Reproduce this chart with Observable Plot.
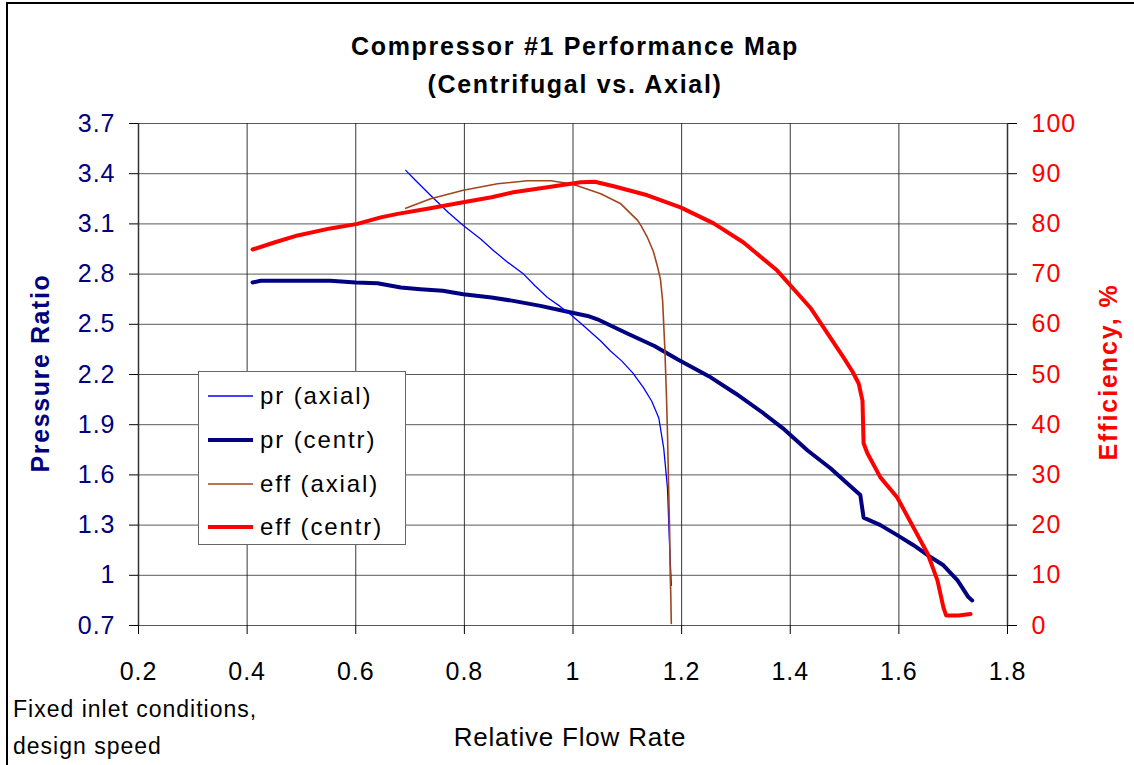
<!DOCTYPE html>
<html><head><meta charset="utf-8">
<script src="https://cdn.jsdelivr.net/npm/d3@7"></script>
<script src="https://cdn.jsdelivr.net/npm/@observablehq/plot@0.6"></script>
<style>
html,body{margin:0;padding:0;background:#fff;overflow:hidden;}
#wrap{position:relative;width:1134px;height:765px;overflow:hidden;font-family:"Liberation Sans",Arial,sans-serif;}
#border{position:absolute;left:6px;top:2px;width:1200px;height:800px;border:2px solid #000;pointer-events:none;}
.t{position:absolute;white-space:nowrap;line-height:1;}
#title{left:0;width:1150px;text-align:center;font-weight:bold;font-size:25px;letter-spacing:1.7px;}
#ylab{left:40px;top:373px;transform:translate(-50%,-50%) rotate(-90deg);font-weight:bold;font-size:25px;letter-spacing:1.6px;color:#000080;}
#y2lab{left:1108px;top:372px;transform:translate(-50%,-50%) rotate(-90deg);font-weight:bold;font-size:25px;letter-spacing:1.9px;color:#ff0000;}
#xlab{left:570px;top:737px;transform:translate(-50%,-50%);font-size:26px;letter-spacing:0.8px;}
#cap{left:13px;top:691px;font-size:23px;letter-spacing:1px;line-height:37px;}
#legend{position:absolute;left:198px;top:371px;width:208px;height:174px;border:1px solid #666;background:#fff;box-sizing:border-box;}
.row{position:absolute;left:9px;height:30px;display:flex;align-items:center;font-size:24px;letter-spacing:1.9px;}
.row svg{margin-right:7px;}
#plot{position:absolute;left:0;top:0;}
</style></head>
<body>
<div id="wrap">
  <div id="plot"></div>
  <div class="t" id="title"><div style="position:absolute;left:0;width:100%;top:34px">Compressor #1 Performance Map</div><div style="position:absolute;left:0;width:100%;top:72px">(Centrifugal vs. Axial)</div></div>
  <div class="t" id="ylab">Pressure Ratio</div>
  <div class="t" id="y2lab">Efficiency, %</div>
  <div class="t" id="xlab">Relative Flow Rate</div>
  <div class="t" id="cap">Fixed inlet conditions,<br>design speed</div>
  <div id="legend"></div>
  <div id="border"></div>
</div>
<script>
// ---- data ----
const xTicks = [0.2, 0.4, 0.6, 0.8, 1, 1.2, 1.4, 1.6, 1.8];
const prTicks = [0.7, 1, 1.3, 1.6, 1.9, 2.2, 2.5, 2.8, 3.1, 3.4, 3.7];
const effTicks = [0, 10, 20, 30, 40, 50, 60, 70, 80, 90, 100];

const seriesNames = ["pr (axial)", "pr (centr)", "eff (axial)", "eff (centr)"];
const seriesColors = ["#0000ff", "#000080", "#a0461e", "#ff0000"];
const seriesWidths = [1.3, 4, 1.6, 4];

const prAxialX = [0.692,0.707,0.738,0.77,0.798,0.83,0.854,0.88,0.909,0.93,0.953,0.975,0.995,1.02,1.051,1.069,1.09,1.11,1.13,1.145,1.158,1.167,1.174,1.177,1.179,1.181];
const prAxialY = [3.42,3.37,3.27,3.17,3.09,3.01,2.94,2.87,2.80,2.73,2.66,2.61,2.56,2.49,2.40,2.34,2.28,2.21,2.12,2.04,1.94,1.76,1.52,1.25,1.09,0.94];

const prCentrX = [0.41,0.425,0.46,0.50,0.553,0.60,0.64,0.683,0.719,0.76,0.798,0.85,0.89,0.94,0.99,1.027,1.045,1.10,1.15,1.193,1.25,1.30,1.35,1.386,1.432,1.474,1.515,1.529,1.535,1.566,1.597,1.627,1.653,1.682,1.708,1.728,1.735];
const prCentrY = [2.75,2.76,2.76,2.76,2.76,2.75,2.745,2.72,2.71,2.70,2.68,2.66,2.64,2.61,2.575,2.55,2.53,2.445,2.37,2.29,2.19,2.085,1.97,1.88,1.746,1.64,1.52,1.48,1.345,1.30,1.24,1.18,1.12,1.06,0.97,0.87,0.85];

const effAxialX = [0.692,0.738,0.798,0.861,0.916,0.959,0.99,1.008,1.051,1.088,1.119,1.126,1.137,1.148,1.156,1.161,1.165,1.169,1.172,1.174,1.176,1.178,1.179,1.180,1.181];
const effAxialY = [83.1,85.0,86.7,88.0,88.6,88.6,88.1,87.6,86.0,84.0,80.7,79.5,77.3,74.5,71.3,69.0,64.7,55.4,46.0,38.2,28.0,18.3,10.0,6.4,0.4];

const effCentrX = [0.41,0.45,0.493,0.553,0.603,0.646,0.677,0.732,0.798,0.85,0.89,0.953,1.014,1.04,1.075,1.137,1.198,1.259,1.314,1.376,1.437,1.498,1.515,1.526,1.533,1.535,1.542,1.566,1.597,1.627,1.653,1.671,1.682,1.687,1.691,1.71,1.732];
const effCentrY = [74.9,76.3,77.7,79.1,80.0,81.3,82.0,83.0,84.3,85.3,86.3,87.3,88.3,88.4,87.5,85.7,83.3,80.1,76.3,70.7,63.3,53.4,50.5,48.2,44.8,36.3,34.3,29.5,25.5,19.5,14.3,9.0,3.6,2.0,2.0,2.0,2.3];

// ---- secondary axis mapping (efficiency 0..100 onto pressure 0.7..3.7) ----
const prMin = prTicks[0], prMax = prTicks[prTicks.length - 1];
const effMax = effTicks[effTicks.length - 1];
const toPr = e => prMin + e * (prMax - prMin) / effMax;
const toEff = p => Math.round((p - prMin) * effMax / (prMax - prMin));

const font = "font-family:'Liberation Sans',Arial,sans-serif;font-size:25px;letter-spacing:1px;background:transparent;overflow:visible;";

const chart = Plot.plot({
  width: 1134,
  height: 765,
  marginLeft: 138,
  marginRight: 127,
  marginTop: 123,
  marginBottom: 140,
  style: font,
  x: {domain: [xTicks[0], xTicks[xTicks.length - 1]]},
  y: {domain: [prMin, prMax]},
  marks: [
    Plot.gridX(xTicks, {stroke: "#222", strokeOpacity: 0.9, strokeWidth: 1}),
    Plot.gridY(prTicks, {stroke: "#222", strokeOpacity: 0.75, strokeWidth: 1}),
    Plot.ruleX([xTicks[0]], {stroke: "#333", strokeWidth: 1.5}),
    Plot.ruleX([xTicks[xTicks.length - 1]], {stroke: "#333", strokeWidth: 1.5}),
    Plot.axisX(xTicks, {tickSize: 9, tickPadding: 28, stroke: "#000", fill: "#000", label: null, tickFormat: d => String(d)}),
    Plot.axisY(prTicks, {anchor: "left", tickSize: 9, tickPadding: 14, stroke: "#000", fill: "#000080", label: null, tickFormat: d => String(d)}),
    Plot.axisY(effTicks.map(toPr), {anchor: "right", tickSize: 9, tickPadding: 15, stroke: "#000", fill: "#ff0000", label: null, tickFormat: toEff}),
    Plot.line(prCentrY, {x: prCentrX, y: prCentrY, stroke: seriesColors[1], strokeWidth: seriesWidths[1]}),
    Plot.line(prAxialY, {x: prAxialX, y: prAxialY, stroke: seriesColors[0], strokeWidth: seriesWidths[0]}),
    Plot.line(effAxialY, {x: effAxialX, y: effAxialY.map(toPr), stroke: seriesColors[2], strokeWidth: seriesWidths[2]}),
    Plot.line(effCentrY, {x: effCentrX, y: effCentrY.map(toPr), stroke: seriesColors[3], strokeWidth: seriesWidths[3]})
  ]
});
document.getElementById("plot").appendChild(chart);

// ---- legend ----
const legend = document.getElementById("legend");
const rowTops = [9, 53, 97, 140];
seriesNames.forEach((name, i) => {
  const row = document.createElement("div");
  row.className = "row";
  row.style.top = rowTops[i] + "px";
  row.innerHTML = `<svg width="45" height="10"><line x1="0" x2="45" y1="5" y2="5" stroke="${seriesColors[i]}" stroke-width="${seriesWidths[i]}"/></svg><span>${name}</span>`;
  legend.appendChild(row);
});
</script>
</body></html>
